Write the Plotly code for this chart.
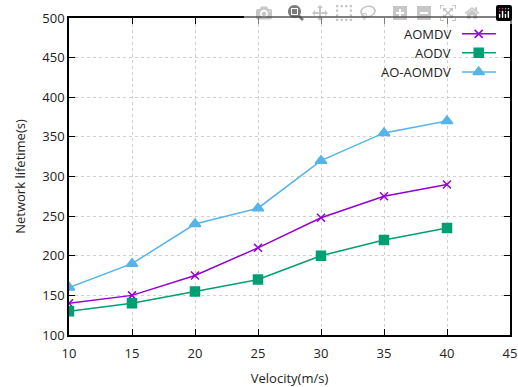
import plotly.graph_objects as go

velocity = [10, 15, 20, 25, 30, 35, 40]
aomdv = [140, 150, 175, 210, 248, 275, 290]
aodv = [130, 140, 155, 170, 200, 220, 235]
ao_aomdv = [160, 190, 240, 260, 320, 355, 370]

x_ticks = [10, 15, 20, 25, 30, 35, 40, 45]
y_ticks = [100, 150, 200, 250, 300, 350, 400, 450, 500]

names = ["AOMDV", "AODV", "AO-AOMDV"]
colors = ["#9400D3", "#009E73", "#56B4E9"]
symbols = ["x-thin-open", "square", "triangle-up"]
sizes = [8, 9, 10]
series = [aomdv, aodv, ao_aomdv]

font = "Open Sans, DejaVu Sans, sans-serif"
fig = go.Figure()
for name, c, s, sz, ys in zip(names, colors, symbols, sizes, series):
    fig.add_trace(go.Scatter(
        x=velocity, y=ys, mode="lines+markers", name=name,
        line=dict(color=c, width=1.5),
        marker=dict(symbol=s, size=sz, color=c, line=dict(color=c, width=1.5)),
        showlegend=False,
    ))

# manual gnuplot-style legend (sample on right of text)
leg_y = [0.950, 0.890, 0.830]
for name, c, s, sz, ly in zip(names, colors, symbols, sizes, leg_y):
    fig.add_trace(go.Scatter(
        x=[0.891, 0.968], y=[ly, ly], mode="lines", xaxis="x2", yaxis="y2",
        line=dict(color=c, width=1.5), showlegend=False, hoverinfo="skip"))
    fig.add_trace(go.Scatter(
        x=[0.929], y=[ly], mode="markers", xaxis="x2", yaxis="y2",
        marker=dict(symbol=s, size=sz, color=c, line=dict(color=c, width=1.5)),
        showlegend=False, hoverinfo="skip"))
    fig.add_annotation(x=0.871, y=ly, xref="x2", yref="y2", text=name,
                       showarrow=False, xanchor="right", yanchor="middle",
                       font=dict(size=13, color="#222", family=font))

axis_common = dict(showline=True, linecolor="black", linewidth=1.5, mirror="ticks",
                   ticks="inside", ticklen=6, tickwidth=1.2, tickcolor="black",
                   showgrid=True, gridcolor="#d0d0d0", griddash="dot", gridwidth=1,
                   zeroline=False, automargin=False, ticklabeloverflow="allow",
                   tickfont=dict(size=13, color="#222", family=font))

fig.update_layout(
    width=518, height=387,
    margin=dict(l=69, r=8, t=18, b=52),
    paper_bgcolor="white", plot_bgcolor="white",
    font=dict(family=font, size=13, color="#222"),
    xaxis=dict(range=[10, 45], tickvals=x_ticks, ticktext=[str(v) for v in x_ticks],
               ticklabelstandoff=6,
               title=dict(text="Velocity(m/s)", standoff=13, font=dict(size=13)),
               **axis_common),
    yaxis=dict(range=[100, 500], tickvals=y_ticks, ticktext=[str(v) for v in y_ticks],
               title=dict(text="Network lifetime(s)", standoff=14, font=dict(size=13)),
               **axis_common),
    xaxis2=dict(range=[0, 1], overlaying="x", visible=False, domain=[0, 1]),
    yaxis2=dict(range=[0, 1], overlaying="y", visible=False),
    showlegend=False,
)

fig.write_html("out.html",
               post_script="document.body.style.margin='0';document.body.style.overflow='hidden';")
